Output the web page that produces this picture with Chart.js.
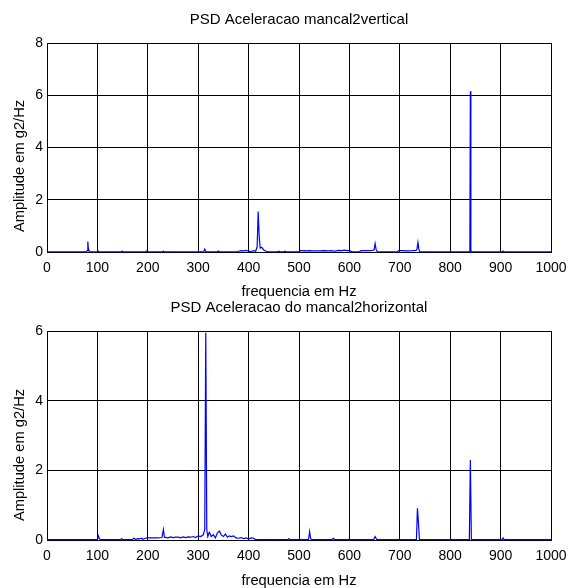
<!DOCTYPE html>
<html>
<head>
<meta charset="utf-8">
<script src="https://cdn.jsdelivr.net/npm/chart.js@4.4.1/dist/chart.umd.min.js"></script>
<style>
    html, body { margin: 0; padding: 0; background: #fff; }
    #page { position: relative; width: 569px; height: 588px; overflow: hidden; }
    canvas { position: absolute; left: 0; }
</style>
</head>
<body>
<div id="page">
    <canvas id="topChart" width="569" height="300" style="top:0"></canvas>
    <canvas id="bottomChart" width="569" height="288" style="top:300px"></canvas>
</div>
<script>
// PSD mancal2 vertical (Hz, g2/Hz)
const freqVertical = [0, 78, 80, 81, 82, 84, 100, 101, 102, 148, 149, 150, 196, 198, 200, 202, 230, 231, 232,
    311, 313, 315, 338, 340, 342, 378, 380, 385, 390, 395, 400, 405, 410, 414, 417, 419, 421, 423, 426, 430, 435, 440,
    458, 460, 462, 470, 472, 474, 500, 503, 507, 510, 515, 520, 530, 540, 550, 560, 565, 570, 580, 585, 590, 595, 600, 605,
    620, 623, 630, 640, 646, 649, 651, 653, 655, 695, 698, 705, 715, 725, 732, 734, 736, 738, 740,
    838, 839, 840, 841, 842, 903, 905, 907, 1000];
const ampVertical = [0.01, 0.01, 0.05, 0.4, 0.15, 0.01, 0.01, 0.05, 0.01, 0.01, 0.03, 0.01, 0.01, 0.04, 0.02, 0.01, 0.01, 0.03, 0.01,
    0.01, 0.11, 0.02, 0.01, 0.04, 0.01, 0.01, 0.03, 0.05, 0.04, 0.06, 0.03, 0.02, 0.05, 0.03, 0.2, 1.55, 0.6, 0.15, 0.18, 0.08, 0.03, 0.01,
    0.01, 0.03, 0.01, 0.01, 0.03, 0.01, 0.01, 0.06, 0.04, 0.05, 0.04, 0.05, 0.04, 0.04, 0.05, 0.04, 0.05, 0.03, 0.06, 0.05, 0.07, 0.05, 0.06, 0.01,
    0.01, 0.05, 0.05, 0.05, 0.06, 0.08, 0.32, 0.1, 0.02, 0.01, 0.05, 0.05, 0.04, 0.05, 0.06, 0.1, 0.36, 0.08, 0.01,
    0.01, 0.05, 6.15, 0.05, 0.01, 0.01, 0.04, 0.01, 0.01];

// PSD mancal2 horizontal (Hz, g2/Hz)
const freqHorizontal = [0, 100, 102, 104, 106, 146, 148, 150, 170, 172, 176, 180, 184, 188, 190, 195, 200, 210, 220, 228, 231, 233,
    240, 245, 250, 255, 260, 265, 270, 275, 280, 285, 290, 295, 300, 305, 310, 313, 315, 317, 319, 322, 326, 330, 334, 338, 342,
    346, 350, 354, 358, 362, 366, 370, 375, 380, 385, 390, 395, 400, 405, 410, 413, 420, 478, 480, 482, 519, 521, 523, 525,
    566, 568, 570, 648, 651, 654, 733, 735, 737, 739, 838, 840, 842, 903, 905, 907, 1000];
const ampHorizontal = [0.01, 0.01, 0.12, 0.03, 0.01, 0.01, 0.04, 0.01, 0.01, 0.05, 0.02, 0.04, 0.03, 0.05, 0.02, 0.05, 0.06, 0.06, 0.06, 0.07, 0.3, 0.08,
    0.06, 0.09, 0.07, 0.08, 0.08, 0.06, 0.09, 0.07, 0.09, 0.08, 0.1, 0.07, 0.12, 0.1, 0.15, 0.3, 5.95, 0.3, 0.1, 0.22, 0.1, 0.15, 0.06, 0.2, 0.26,
    0.14, 0.1, 0.17, 0.08, 0.12, 0.1, 0.12, 0.06, 0.05, 0.07, 0.04, 0.06, 0.03, 0.06, 0.05, 0.02, 0.01, 0.01, 0.04, 0.01, 0.01, 0.24, 0.05, 0.01,
    0.01, 0.05, 0.01, 0.01, 0.1, 0.02, 0.01, 0.91, 0.5, 0.02, 0.01, 2.3, 0.01, 0.01, 0.06, 0.01, 0.01];

const xMin = 0, xMax = 1000, xStep = 100;
const yStep = 2;

const FONT = "'Liberation Sans', Arial, sans-serif";
const TICK_SIZE = 14;
const TITLE_SIZE = 15;
const LABEL_SIZE = 14.7;

// rotated y label, MATLAB puts it a bit below the axis middle
const yLabelPlugin = {
    id: "yLabel",
    afterDraw(chart, args, opts) {
        const ctx = chart.ctx;
        ctx.save();
        ctx.translate(opts.x, opts.y);
        ctx.rotate(-Math.PI / 2);
        ctx.font = `${LABEL_SIZE}px ${FONT}`;
        ctx.fillStyle = "#000";
        ctx.textAlign = "center";
        ctx.textBaseline = "middle";
        ctx.fillText(opts.text, 0, 0);
        ctx.restore();
    },
};

function makeChart(id, p) {
    const canvasBottom = p.canvasTop + p.canvasHeight;
    return new Chart(document.getElementById(id), {
        type: "line",
        data: {
            datasets: [{
                data: p.freq.map((f, i) => ({ x: f, y: p.amp[i] })),
                borderColor: "#0000ff",
                borderWidth: 1.2,
                pointRadius: 0,
                tension: 0,
                clip: false,
            }],
        },
        options: {
            responsive: false,
            animation: false,
            layout: { padding: { left: 0, right: 18, top: 0, bottom: 0 } },
            plugins: {
                legend: { display: false },
                tooltip: { enabled: false },
                yLabel: { x: 20, y: p.ylabelY - p.canvasTop, text: "Amplitude em g2/Hz" },
            },
            scales: {
                x: {
                    type: "linear",
                    min: xMin,
                    max: xMax,
                    grid: { color: "#000", lineWidth: 1, drawTicks: false },
                    border: { color: "#000", width: 1 },
                    ticks: {
                        stepSize: xStep,
                        autoSkip: false,
                        maxRotation: 0,
                        padding: 8,
                        color: "#000",
                        font: { family: FONT, size: TICK_SIZE },
                        callback: (v) => String(v),
                    },
                    title: {
                        display: true,
                        text: "frequencia em Hz",
                        color: "#000",
                        font: { family: FONT, size: LABEL_SIZE, lineHeight: 1 },
                        padding: { top: 0, bottom: canvasBottom - p.xlabelY - LABEL_SIZE / 2 },
                    },
                    afterFit: (scale) => {
                        scale.height = canvasBottom - p.areaBottom;
                        scale.paddingLeft = 0;
                        scale.paddingRight = 0;
                    },
                },
                top: {
                    type: "linear",
                    position: "top",
                    grid: { display: false },
                    border: { display: false },
                    ticks: { display: false },
                    title: {
                        display: true,
                        text: p.title,
                        color: "#000",
                        font: { family: FONT, size: TITLE_SIZE, lineHeight: 1 },
                        padding: { top: p.titleY - p.canvasTop - TITLE_SIZE / 2, bottom: 0 },
                    },
                    afterFit: (scale) => {
                        scale.height = p.areaTop - p.canvasTop;
                        scale.paddingLeft = 0;
                        scale.paddingRight = 0;
                    },
                },
                y: {
                    min: 0,
                    max: p.yMax,
                    grid: { color: "#000", lineWidth: 1, drawTicks: false },
                    border: { color: "#000", width: 1 },
                    ticks: {
                        stepSize: yStep,
                        padding: 4,
                        color: "#000",
                        font: { family: FONT, size: TICK_SIZE },
                    },
                    afterFit: (scale) => {
                        scale.width = 47;
                        scale.paddingTop = 0;
                        scale.paddingBottom = 0;
                    },
                },
            },
        },
        plugins: [yLabelPlugin],
    });
}

makeChart("topChart", {
    freq: freqVertical, amp: ampVertical, yMax: 8,
    title: "PSD Aceleracao mancal2vertical",
    canvasTop: 0, canvasHeight: 300, areaTop: 43, areaBottom: 252,
    titleY: 20, xlabelY: 292, ylabelY: 166,
});

makeChart("bottomChart", {
    freq: freqHorizontal, amp: ampHorizontal, yMax: 6,
    title: "PSD Aceleracao do mancal2horizontal",
    canvasTop: 300, canvasHeight: 288, areaTop: 331, areaBottom: 540,
    titleY: 307.5, xlabelY: 581, ylabelY: 455,
});
</script>
</body>
</html>
